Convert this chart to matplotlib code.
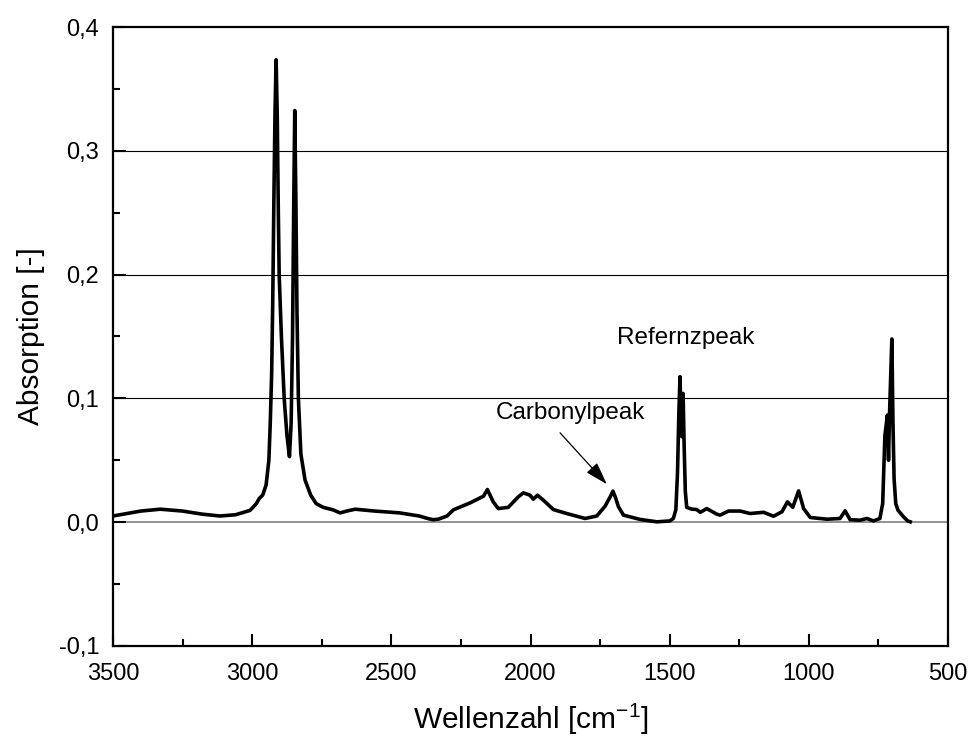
import matplotlib
matplotlib.use("Agg")
import matplotlib.pyplot as plt
from matplotlib.ticker import MultipleLocator, FuncFormatter

plt.rcParams['font.family'] = ['Liberation Sans', 'DejaVu Sans']

# IR spectrum (wavenumber in cm^-1, absorption)
wavenumber = [3500, 3450, 3400, 3330, 3250, 3180, 3116, 3060, 3008, 2985,
              2975, 2962, 2950, 2940, 2935, 2930, 2926, 2922, 2918, 2914,
              2910, 2906, 2903, 2895, 2885, 2875, 2866, 2860, 2855, 2851,
              2847, 2843, 2839, 2834, 2825, 2810, 2790, 2770, 2745, 2710,
              2684, 2660, 2630, 2560, 2470, 2400, 2370, 2350, 2330, 2300,
              2277, 2217, 2169, 2155, 2134, 2116, 2080, 2044, 2026, 2002,
              1990, 1975, 1954, 1918, 1870, 1804, 1762, 1732, 1715, 1704,
              1695, 1684, 1666, 1606, 1546, 1500, 1487, 1478, 1472, 1467,
              1463, 1459, 1456, 1452, 1448, 1444, 1439, 1420, 1404, 1390,
              1367, 1331, 1319, 1289, 1247, 1211, 1163, 1127, 1097, 1077,
              1058, 1037, 1019, 995, 935, 888, 870, 852, 816, 792,
              768, 745, 735, 727, 718, 714, 710, 702, 698, 694,
              688, 680, 660, 645, 636]
absorption = [0.005, 0.007, 0.009, 0.0105, 0.009, 0.0065, 0.005, 0.006, 0.0095, 0.015,
              0.019, 0.022, 0.030, 0.050, 0.08, 0.12, 0.18, 0.26, 0.33, 0.3735,
              0.33, 0.25, 0.20, 0.15, 0.10, 0.07, 0.053, 0.08, 0.15, 0.25,
              0.3325, 0.26, 0.17, 0.10, 0.055, 0.034, 0.022, 0.015, 0.012, 0.010,
              0.0075, 0.009, 0.0105, 0.009, 0.0075, 0.005, 0.003, 0.002, 0.0025, 0.005,
              0.010, 0.0156, 0.021, 0.0264, 0.0164, 0.011, 0.012, 0.0205, 0.0237, 0.0218,
              0.0186, 0.0218, 0.0178, 0.0102, 0.007, 0.003, 0.005, 0.013, 0.020, 0.0251,
              0.020, 0.0124, 0.0057, 0.0022, 0.0003, 0.001, 0.003, 0.010, 0.04, 0.09,
              0.1175, 0.075, 0.069, 0.104, 0.06, 0.025, 0.012, 0.0105, 0.0103, 0.008,
              0.011, 0.0065, 0.0057, 0.009, 0.009, 0.007, 0.008, 0.0048, 0.0084, 0.0164,
              0.012, 0.0253, 0.011, 0.0038, 0.0024, 0.003, 0.0092, 0.002, 0.0016, 0.003,
              0.001, 0.003, 0.015, 0.07, 0.0865, 0.05, 0.09, 0.148, 0.08, 0.035,
              0.015, 0.0097, 0.0043, 0.001, 0.0003]

grid_levels = [0.1, 0.2, 0.3]

fig = plt.figure(figsize=(9.74, 7.36), dpi=100)
ax = fig.add_axes([0.116, 0.1223, 0.8574, 0.8410])

for g in grid_levels:
    ax.axhline(g, color='black', lw=0.8, zorder=1)
ax.axhline(0.0, color='#808080', lw=1.2, zorder=1)

ax.plot(wavenumber, absorption, color='black', lw=2.6, zorder=3,
        solid_joinstyle='round')

ax.set_xlim(3500, 500)
ax.set_ylim(-0.1, 0.4)

ax.xaxis.set_major_locator(MultipleLocator(500))
ax.xaxis.set_minor_locator(MultipleLocator(250))
ax.yaxis.set_major_locator(MultipleLocator(0.1))
ax.yaxis.set_minor_locator(MultipleLocator(0.05))
ax.yaxis.set_major_formatter(FuncFormatter(lambda v, p: f"{v:.1f}".replace('.', ',').replace('-0,0', '0,0')))

ax.tick_params(which='major', direction='in', length=9, width=1.5, labelsize=17)
ax.tick_params(axis='x', which='major', pad=12)
ax.tick_params(axis='y', which='major', pad=10)
ax.tick_params(which='minor', direction='in', length=5, width=1.5)
ax.tick_params(top=False, right=False, which='both')

for s in ax.spines.values():
    s.set_linewidth(1.6)

ax.set_xlabel("Wellenzahl [cm$^{\\mathregular{-1}}$]", fontsize=21.5, labelpad=12)
ax.set_ylabel("Absorption [-]", fontsize=21.5, labelpad=10)

ax.text(1441, 0.1487, "Refernzpeak", fontsize=17.5, ha='center', va='center')
ax.text(1858, 0.088, "Carbonylpeak", fontsize=17.5, ha='center', va='center')
ax.annotate("", xy=(1726, 0.0307), xytext=(1894, 0.0722),
            arrowprops=dict(arrowstyle='-|>,head_length=0.7,head_width=0.22',
                            color='black', lw=0.9, mutation_scale=20,
                            shrinkA=0, shrinkB=0))

fig.savefig("out.png", dpi=100)
